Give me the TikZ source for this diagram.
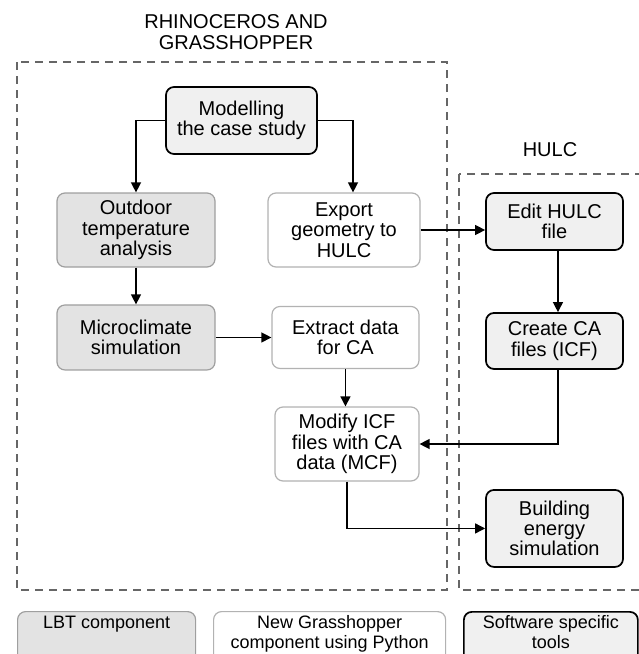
\documentclass[tikz,border=0pt]{standalone}
\usepackage{fontspec}
\setmainfont{Liberation Sans}
\usetikzlibrary{arrows.meta}

\begin{document}
\begin{tikzpicture}[x=0.75pt, y=-0.75pt, >={Triangle[length=7.5pt, width=7.5pt]},
    every node/.style={font=\fontsize{15}{15.2}\selectfont, align=center}]
    \tikzstyle{lbt} = [rectangle, draw=gray!75, line width=0.9pt, fill=gray!22, rounded corners=6pt, inner sep=0pt]
    \tikzstyle{python} = [rectangle, draw=gray!60, line width=0.9pt, fill=white, rounded corners=6pt, inner sep=0pt]
    \tikzstyle{tool} = [rectangle, draw=black, line width=1.3pt, fill=gray!12, rounded corners=6pt, inner sep=0pt]
    \tikzstyle{frame} = [draw=black!60, line width=0.9pt, dash pattern=on 6pt off 4.5pt]
    \tikzstyle{flow} = [->, line width=1pt]

    \useasboundingbox (0,0) rectangle (639,654);
    \clip (0,0) rectangle (639,654);

    % the two software environments
    \draw [frame] (17,62) rectangle (447,590);
    \draw [frame] (459,174) rectangle (660,590);
    \node (rhgh) at (236,32) {RHINOCEROS AND\\GRASSHOPPER};
    \node (hulc) at (550,150) {HULC};

    \node (model) [tool, minimum width=113.25pt, minimum height=50.25pt] at (241.5,120.5) {Modelling\\the case study};
    \node (outdoor) [lbt, minimum width=118.5pt, minimum height=55.5pt] at (136,230) {Outdoor\\temperature\\analysis};
    \node (export) [python, right of=outdoor, node distance=156pt, minimum width=114pt, minimum height=55.5pt] {Export\\geometry to\\HULC};
    \node (micro) [lbt, below of=outdoor, node distance=80.6pt, minimum width=118.5pt, minimum height=48.75pt] {Microclimate\\simulation};
    \node (extract) [python, right of=micro, node distance=157.1pt, minimum width=110.25pt, minimum height=46.5pt] {Extract data\\for CA};
    \node (modify) [python, minimum width=108pt, minimum height=55.5pt] at (347,444) {Modify ICF\\files with CA\\data (MCF)};

    \node (edit) [tool, minimum width=102.75pt, minimum height=42.75pt] at (554.5,221.5) {Edit HULC\\file};
    \node (create) [tool, below of=edit, node distance=89.6pt, minimum width=102.75pt, minimum height=42pt] {Create CA\\files (ICF)};
    \node (building) [tool, below of=create, node distance=140.6pt, minimum width=102.75pt, minimum height=57.75pt] {Building\\energy\\simulation};

    \draw [flow] (model.west) -| (outdoor.north);
    \draw [flow] (model.east) -| ([xshift=6.75pt]export.north);
    \draw [flow] (outdoor) -- (micro);
    \draw [flow] (export.east) -- (export.east -| edit.west);
    \draw [flow] (micro.east) -- (micro.east -| extract.west);
    \draw [flow] (extract.south) -- (extract.south |- modify.north);
    \draw [flow] ([xshift=2.6pt]edit.south) -- ([xshift=2.6pt]create.north);
    \draw [flow] ([xshift=2.6pt]create.south) |- (modify.east);
    \draw [flow] (modify.south) |- (building.west);

    % legend
    \tikzstyle{key} = [anchor=north west, minimum height=60pt]
    \tikzset{every label/.style={font=\fontsize{13.5}{15}\selectfont, align=center}}
    \node (lbtkey) [lbt, key, minimum width=133.5pt, label={[anchor=north]north:LBT component}] at (17,611) {};
    \node (pythonkey) [python, key, minimum width=174pt, label={[anchor=north]north:New Grasshopper\\component using Python}] at (213,611) {};
    \node (toolkey) [tool, key, minimum width=130.5pt, label={[anchor=north]north:Software specific\\tools}] at (463,611) {};
\end{tikzpicture}
\end{document}
